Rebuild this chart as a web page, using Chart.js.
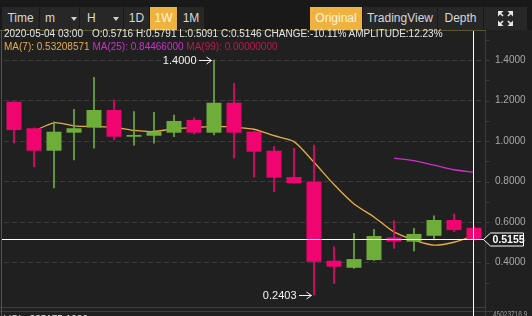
<!DOCTYPE html>
<html lang="en">
<head>
<meta charset="UTF-8">
<title>Weekly candles</title>
<script src="https://cdn.jsdelivr.net/npm/chart.js"></script>
<style>
    body {
        margin: 0;
        padding: 0;
        width: 532px;
        height: 316px;
        overflow: hidden;
        position: relative;
        background: #202020;
        font-family: 'Liberation Sans', Arial, sans-serif;
    }

    .toolbar {
        position: absolute;
        left: 0;
        top: 0;
        width: 532px;
        height: 30px;
        background: #191919;
    }

    .btn {
        position: absolute;
        top: 7px;
        height: 23px;
        line-height: 23px;
        background: #272727;
        color: #d8d8d8;
        font-size: 12px;
        text-align: center;
    }

    .btn.on {
        background: #efb23e;
        color: #fff6e0;
    }

    .caret {
        position: absolute;
        top: 10px;
        width: 0;
        height: 0;
        border-left: 3.5px solid transparent;
        border-right: 3.5px solid transparent;
        border-top: 4px solid #cfcfcf;
    }

    .info {
        position: absolute;
        left: 4px;
        font-size: 10px;
        line-height: 12px;
        white-space: pre;
        color: #e6e6e6;
    }

    .edge {
        position: absolute;
        background: #5b5630;
    }

    #chartBox {
        position: absolute;
        left: 0;
        top: 31px;
        width: 532px;
        height: 285px;
    }
</style>
</head>
<body>

    <!-- toolbar -->
    <div class="toolbar">
        <div class="btn" style="left:2px;width:37px;">Time</div>
        <div class="btn" style="left:40px;width:39px;text-align:left;"><span style="margin-left:5px;">m</span><span class="caret" style="left:31px;"></span></div>
        <div class="btn" style="left:80px;width:43px;text-align:left;"><span style="margin-left:7px;">H</span><span class="caret" style="left:33px;"></span></div>
        <div class="btn" style="left:124px;width:25px;">1D</div>
        <div class="btn on" style="left:150px;width:27px;">1W</div>
        <div class="btn" style="left:178px;width:26px;">1M</div>

        <div class="btn on" style="left:310px;width:52px;">Original</div>
        <div class="btn" style="left:363px;width:74px;">TradingView</div>
        <div class="btn" style="left:438px;width:45px;">Depth</div>
        <div class="btn" style="left:484px;width:43px;">
            <svg width="15" height="15" viewBox="0 0 15 15" style="position:absolute;left:14px;top:4px;">
                <g fill="#e8e8e8" stroke="#e8e8e8" stroke-width="1.6">
                    <polygon points="0,0 5.5,0 0,5.5" stroke="none"/>
                    <line x1="1" y1="1" x2="5" y2="5"/>
                    <polygon points="15,0 9.5,0 15,5.5" stroke="none"/>
                    <line x1="14" y1="1" x2="10" y2="5"/>
                    <polygon points="0,15 5.5,15 0,9.5" stroke="none"/>
                    <line x1="1" y1="14" x2="5" y2="10"/>
                    <polygon points="15,15 9.5,15 15,9.5" stroke="none"/>
                    <line x1="14" y1="14" x2="10" y2="10"/>
                </g>
            </svg>
        </div>
    </div>

    <div class="edge" style="left:0;top:30px;width:486px;height:1px;"></div>

    <div id="chartBox"><canvas id="kline"></canvas></div>

    <div class="edge" style="left:1px;top:30px;width:1px;height:286px;"></div>

    <!-- info lines -->
    <div class="info" style="top:28px;">2020-05-04 03:00<span style="margin-left:9px;">O:0.5716 H:0.5791 L:0.5091 C:0.5146 CHANGE:-10.11% AMPLITUDE:12.23%</span></div>
    <div class="info" style="top:41px;"><span style="color:#e9ad45;">MA(7): 0.53208571</span> <span style="color:#cf2fcf;">MA(25): 0.84466000</span> <span style="color:#c21752;">MA(99): 0.00000000</span></div>

    <!-- volume pane (cut off at the bottom) -->
    <div class="info" style="top:314px;">VOL: 285175.1930</div>
    <div style="position:absolute;left:493px;top:309px;font-size:9px;color:#9a9a9a;transform:scaleX(0.72);transform-origin:left top;white-space:pre;">45023718.9</div>

    <script>
        // weekly candles, last one is 2020-05-04
        const labels = ['2019-11-25', '2019-12-02', '2019-12-09', '2019-12-16', '2019-12-23', '2019-12-30',
            '2020-01-06', '2020-01-13', '2020-01-20', '2020-01-27', '2020-02-03', '2020-02-10',
            '2020-02-17', '2020-02-24', '2020-03-02', '2020-03-09', '2020-03-16', '2020-03-23',
            '2020-03-30', '2020-04-06', '2020-04-13', '2020-04-20', '2020-04-27', '2020-05-04'];

        const opens  = [1.194, 1.063, 0.952, 1.041, 1.066, 1.153, 1.021, 1.026, 1.041, 1.104, 1.041, 1.189,
                        1.046, 0.952, 0.822, 0.799, 0.409, 0.374, 0.412, 0.524, 0.503, 0.532, 0.610, 0.5716];
        const highs  = [1.194, 1.065, 1.095, 1.157, 1.315, 1.203, 1.145, 1.142, 1.128, 1.115, 1.400, 1.285,
                        1.046, 0.972, 0.964, 0.980, 0.478, 0.544, 0.564, 0.607, 0.569, 0.630, 0.640, 0.5791];
        const lows   = [0.990, 0.873, 0.768, 0.906, 0.964, 1.005, 0.980, 0.989, 1.021, 1.035, 1.030, 0.915,
                        0.821, 0.750, 0.790, 0.2403, 0.297, 0.371, 0.410, 0.470, 0.457, 0.511, 0.552, 0.5091];
        const closes = [1.054, 0.952, 1.046, 1.063, 1.153, 1.021, 1.030, 1.046, 1.099, 1.041, 1.189, 1.041,
                        0.947, 0.819, 0.792, 0.404, 0.379, 0.417, 0.531, 0.503, 0.541, 0.610, 0.560, 0.5146];

        const ma7  = [null, 1.049, 1.090, 1.075, 1.072, 1.068, 1.052, 1.047, 1.060, 1.066, 1.072, 1.068,
                      1.058, 1.026, 0.997, 0.895, 0.785, 0.689, 0.625, 0.551, 0.511, 0.486, 0.500, 0.532];
        const ma25 = [null, null, null, null, null, null, null, null, null, null, null, null,
                      null, null, null, null, null, null, null, 0.915, 0.903, 0.881, 0.858, 0.845];

        const priceTicks = [0.4, 0.6, 0.8, 1.0, 1.2, 1.4];
        const crossPrice = 0.5155;

        const UP = '#6fad3b';
        const DOWN = '#ef0470';
        const candleColors = opens.map((o, i) => closes[i] >= o ? UP : DOWN);

        // crosshair, price tag, axis ticks and the high / low markers
        const overlay = {
            id: 'overlay',
            afterDraw(chart) {
                const { ctx, chartArea: a, scales: { x, y } } = chart;
                const h = chart.height;
                const axisX = a.right + 1.5;
                ctx.save();

                ctx.strokeStyle = '#3d3d3d';
                ctx.lineWidth = 1;
                ctx.beginPath();
                ctx.moveTo(axisX, 0);
                ctx.lineTo(axisX, h);
                for (let k = 3; k <= 15; k++) {
                    const py = Math.round(y.getPixelForValue(k / 10)) + 0.5;
                    ctx.moveTo(axisX, py);
                    ctx.lineTo(axisX + 4, py);
                }
                ctx.moveTo(0, a.bottom + 0.5);
                ctx.lineTo(axisX, a.bottom + 0.5);
                ctx.moveTo(0, a.bottom + 4.5);
                ctx.lineTo(axisX + 8, a.bottom + 4.5);
                ctx.stroke();

                // high / low labels
                ctx.font = '11px "Liberation Sans", Arial, sans-serif';
                ctx.fillStyle = '#f2f2f2';
                ctx.strokeStyle = '#f2f2f2';
                ctx.textAlign = 'right';
                ctx.textBaseline = 'middle';
                const hiIdx = highs.indexOf(Math.max(...highs));
                const loIdx = lows.indexOf(Math.min(...lows));
                [[hiIdx, highs[hiIdx]], [loIdx, lows[loIdx]]].forEach(([i, v]) => {
                    const px = x.getPixelForValue(i);
                    const py = Math.round(y.getPixelForValue(v)) + 0.5;
                    const tip = px - 2.5;
                    ctx.fillText(v.toFixed(4), px - 17.5, py + 0.5);
                    ctx.beginPath();
                    ctx.moveTo(px - 15, py);
                    ctx.lineTo(tip, py);
                    ctx.moveTo(tip - 5, py - 3.5);
                    ctx.lineTo(tip, py);
                    ctx.lineTo(tip - 5, py + 3.5);
                    ctx.stroke();
                });

                // crosshair
                const cx = Math.round(x.getPixelForValue(labels.length - 1)) - 0.5;
                const cy = Math.round(y.getPixelForValue(crossPrice)) + 0.5;
                ctx.strokeStyle = '#ffffff';
                ctx.beginPath();
                ctx.moveTo(cx, 0);
                ctx.lineTo(cx, h);
                ctx.moveTo(a.left - 2, cy);
                ctx.lineTo(a.right, cy);
                ctx.stroke();

                // price tag
                const tl = a.right - 0.5;
                ctx.beginPath();
                ctx.moveTo(tl, cy);
                ctx.lineTo(tl + 7, cy - 6.5);
                ctx.lineTo(tl + 40, cy - 6.5);
                ctx.lineTo(tl + 40, cy + 6.5);
                ctx.lineTo(tl + 7, cy + 6.5);
                ctx.closePath();
                ctx.fillStyle = '#1c1c1c';
                ctx.fill();
                ctx.stroke();
                ctx.fillStyle = '#ffffff';
                ctx.font = 'bold 10.5px "Liberation Sans", Arial, sans-serif';
                ctx.textAlign = 'left';
                ctx.fillText(crossPrice.toFixed(4), tl + 9, cy + 0.5);

                ctx.restore();
            }
        };

        const ctx = document.getElementById('kline').getContext('2d');

        new Chart(ctx, {
            type: 'bar',
            data: {
                labels: labels,
                datasets: [
                    {
                        type: 'line',
                        label: 'MA(7)',
                        data: ma7,
                        borderColor: '#e9ad45',
                        borderWidth: 1.3,
                        pointRadius: 0,
                        tension: 0.25,
                        order: 3
                    },
                    {
                        type: 'line',
                        label: 'MA(25)',
                        data: ma25,
                        borderColor: '#cf2fcf',
                        borderWidth: 1.3,
                        pointRadius: 0,
                        tension: 0.25,
                        order: 3
                    },
                    {
                        label: 'wick',
                        data: lows.map((l, i) => [l, highs[i]]),
                        backgroundColor: candleColors,
                        barThickness: 1,
                        grouped: false,
                        order: 2
                    },
                    {
                        label: 'body',
                        data: opens.map((o, i) => [o, closes[i]]),
                        backgroundColor: candleColors,
                        barPercentage: 0.75,
                        categoryPercentage: 1,
                        grouped: false,
                        order: 1
                    }
                ]
            },
            options: {
                responsive: true,
                maintainAspectRatio: false,
                animation: false,
                devicePixelRatio: 1,
                layout: { padding: { left: 4, right: 0, top: 0, bottom: 9 } },
                plugins: {
                    legend: { display: false },
                    tooltip: { enabled: false }
                },
                scales: {
                    x: { display: false, offset: true },
                    y: {
                        position: 'right',
                        min: 1.4 - 247 / 202.5,
                        max: 1.4 + 29 / 202.5,
                        afterBuildTicks: s => { s.ticks = priceTicks.map(v => ({ value: v })); },
                        afterFit: s => { s.width = 48; s.paddingTop = 0; s.paddingBottom = 0; },
                        ticks: {
                            color: '#a9a9a9',
                            padding: 11,
                            font: { size: 10, family: '"Liberation Sans", Arial, sans-serif' },
                            callback: v => Number(v).toFixed(4)
                        },
                        grid: { color: 'rgba(255,255,255,0.12)', drawTicks: false },
                        border: { display: false, dash: [5, 3] }
                    }
                }
            },
            plugins: [overlay]
        });
    </script>

</body>
</html>
